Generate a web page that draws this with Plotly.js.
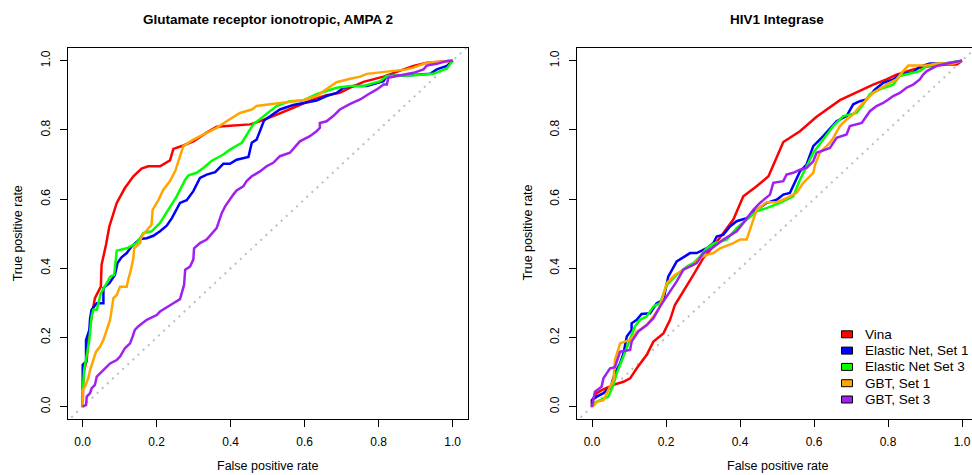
<!DOCTYPE html>
<html><head><meta charset="utf-8">
<script src="https://cdn.plot.ly/plotly-3.0.1.min.js"></script>
<style>html,body{margin:0;padding:0;overflow:hidden;background:#fff}#chart{width:1000px;height:475px}</style>
</head><body><div id="chart"></div>
<script>
const seriesNames = ["Vina", "Elastic Net, Set 1", "Elastic Net Set 3", "GBT, Set 1", "GBT, Set 3"];
const seriesColors = ["#ff0000", "#0000ff", "#00ff00", "#ffa500", "#a020f0"];
const panelTitles = ["Glutamate receptor ionotropic, AMPA 2", "HIV1 Integrase"];
const xAxisTitle = "False positive rate";
const yAxisTitle = "True positive rate";
const tickValues = [0, 0.2, 0.4, 0.6, 0.8, 1.0];
const tickLabels = ["0.0", "0.2", "0.4", "0.6", "0.8", "1.0"];
const diagonal = [-0.1, 1.1];

// Panel 1: Glutamate receptor ionotropic, AMPA 2
const gluVinaFpr = [0,0.002,0.011,0.015,0.024,0.033,0.049,0.051,0.063,0.072,0.092,0.114,0.137,0.159,0.177,0.209,0.236,0.245,0.272,0.299,0.335,0.362,0.389,0.452,0.470,0.515,0.569,0.623,0.659,0.695,0.723,0.759,0.813,0.849,0.894,0.930,1];
const gluVinaTpr = [0,0.097,0.135,0.193,0.261,0.314,0.347,0.410,0.468,0.521,0.589,0.632,0.666,0.688,0.695,0.695,0.712,0.745,0.755,0.767,0.792,0.809,0.811,0.816,0.822,0.840,0.864,0.888,0.900,0.907,0.922,0.939,0.954,0.968,0.985,0.994,1];
const gluEn1Fpr = [0,0,0.009,0.009,0.018,0.020,0.024,0.038,0.056,0.056,0.072,0.087,0.094,0.105,0.119,0.132,0.155,0.173,0.191,0.209,0.227,0.241,0.263,0.281,0.299,0.317,0.335,0.358,0.380,0.398,0.416,0.448,0.457,0.470,0.490,0.515,0.533,0.569,0.596,0.632,0.659,0.686,0.705,0.732,0.768,0.795,0.813,0.822,0.885,0.939,0.957,0.984,1];
const gluEn1Tpr = [0,0.121,0.130,0.193,0.222,0.256,0.280,0.299,0.299,0.343,0.357,0.381,0.415,0.432,0.444,0.463,0.485,0.487,0.494,0.507,0.523,0.545,0.589,0.597,0.623,0.661,0.671,0.678,0.702,0.702,0.714,0.722,0.763,0.772,0.827,0.845,0.859,0.872,0.878,0.885,0.898,0.907,0.922,0.927,0.927,0.936,0.941,0.956,0.958,0.962,0.975,0.985,1];
const gluEn3Fpr = [0,0,0.004,0.011,0.018,0.024,0.029,0.038,0.049,0.065,0.074,0.085,0.090,0.092,0.119,0.146,0.164,0.186,0.209,0.236,0.254,0.277,0.286,0.308,0.326,0.349,0.380,0.398,0.430,0.461,0.488,0.524,0.560,0.596,0.632,0.686,0.723,0.759,0.804,0.822,0.894,0.948,0.966,0.984,1];
const gluEn3Tpr = [0,0.048,0.106,0.154,0.193,0.261,0.280,0.280,0.328,0.357,0.376,0.381,0.444,0.451,0.458,0.473,0.502,0.507,0.531,0.579,0.608,0.656,0.669,0.676,0.690,0.711,0.729,0.743,0.763,0.816,0.838,0.869,0.883,0.885,0.903,0.922,0.927,0.927,0.941,0.956,0.958,0.962,0.970,0.977,1];
const gluGbt1Fpr = [0,0,0.006,0.015,0.020,0.029,0.036,0.047,0.056,0.065,0.074,0.083,0.092,0.101,0.119,0.123,0.130,0.137,0.139,0.155,0.159,0.175,0.186,0.189,0.205,0.218,0.236,0.250,0.263,0.272,0.299,0.317,0.362,0.389,0.425,0.457,0.470,0.506,0.560,0.596,0.632,0.659,0.686,0.723,0.750,0.768,0.813,0.876,0.894,0.930,1];
const gluGbt1Tpr = [0,0.048,0.058,0.082,0.106,0.135,0.159,0.174,0.193,0.222,0.251,0.314,0.323,0.347,0.347,0.367,0.394,0.430,0.458,0.473,0.492,0.512,0.526,0.569,0.598,0.627,0.652,0.681,0.724,0.753,0.772,0.782,0.806,0.825,0.849,0.859,0.869,0.874,0.881,0.886,0.898,0.919,0.938,0.948,0.954,0.962,0.968,0.975,0.980,0.994,1];
const gluGbt3Fpr = [0,0.009,0.011,0.020,0.024,0.033,0.038,0.047,0.060,0.074,0.092,0.101,0.114,0.128,0.135,0.141,0.150,0.173,0.200,0.209,0.245,0.263,0.274,0.277,0.290,0.299,0.301,0.317,0.335,0.353,0.362,0.376,0.385,0.407,0.416,0.434,0.443,0.457,0.470,0.479,0.497,0.515,0.533,0.560,0.587,0.614,0.632,0.641,0.641,0.659,0.677,0.695,0.723,0.750,0.772,0.795,0.813,0.822,0.826,0.849,0.894,0.921,0.930,0.957,0.984,1];
const gluGbt3Tpr = [0,0.005,0.029,0.039,0.053,0.063,0.087,0.097,0.111,0.125,0.135,0.145,0.169,0.183,0.203,0.222,0.232,0.251,0.265,0.275,0.299,0.311,0.352,0.396,0.405,0.425,0.458,0.473,0.483,0.507,0.516,0.560,0.579,0.613,0.625,0.637,0.652,0.666,0.673,0.680,0.695,0.705,0.724,0.734,0.767,0.782,0.796,0.806,0.820,0.825,0.840,0.859,0.875,0.888,0.903,0.917,0.931,0.931,0.951,0.956,0.965,0.975,0.986,0.991,0.999,1];

// Panel 2: HIV1 Integrase
const hivVinaFpr = [0,0,0.013,0.026,0.058,0.085,0.103,0.121,0.148,0.166,0.193,0.211,0.224,0.247,0.274,0.301,0.328,0.355,0.382,0.409,0.445,0.477,0.499,0.517,0.562,0.607,0.670,0.706,0.760,0.796,0.823,0.868,0.905,0.959,0.986,1];
const hivVinaTpr = [0,0.019,0.039,0.048,0.063,0.072,0.082,0.111,0.150,0.188,0.212,0.251,0.294,0.333,0.381,0.430,0.463,0.502,0.541,0.608,0.637,0.666,0.719,0.765,0.796,0.838,0.886,0.904,0.931,0.946,0.960,0.975,0.983,0.989,0.989,1];
const hivEn1Fpr = [0,0,0.013,0.031,0.040,0.049,0.062,0.076,0.085,0.094,0.107,0.107,0.121,0.134,0.157,0.175,0.193,0.206,0.229,0.265,0.283,0.310,0.328,0.337,0.355,0.373,0.391,0.418,0.445,0.472,0.499,0.517,0.535,0.562,0.580,0.598,0.625,0.661,0.688,0.706,0.724,0.742,0.765,0.787,0.814,0.832,0.868,0.886,0.914,0.959,1];
const hivEn1Tpr = [0,0.019,0.029,0.039,0.048,0.053,0.097,0.125,0.154,0.203,0.222,0.241,0.251,0.268,0.270,0.299,0.309,0.376,0.420,0.444,0.444,0.458,0.473,0.492,0.497,0.521,0.536,0.545,0.569,0.589,0.598,0.613,0.618,0.680,0.700,0.753,0.782,0.825,0.840,0.874,0.883,0.888,0.917,0.936,0.946,0.960,0.967,0.983,0.992,0.992,1];
const hivEn3Fpr = [0,0.004,0.022,0.044,0.058,0.067,0.085,0.103,0.116,0.130,0.148,0.166,0.184,0.202,0.229,0.256,0.274,0.292,0.310,0.328,0.364,0.391,0.418,0.445,0.472,0.508,0.544,0.562,0.585,0.598,0.625,0.652,0.679,0.715,0.733,0.751,0.778,0.814,0.832,0.868,0.886,0.905,0.950,1];
const hivEn3Tpr = [0,0.010,0.019,0.029,0.063,0.097,0.145,0.193,0.232,0.251,0.261,0.290,0.299,0.352,0.381,0.405,0.415,0.434,0.458,0.471,0.483,0.516,0.541,0.565,0.574,0.589,0.608,0.656,0.705,0.734,0.772,0.811,0.840,0.849,0.874,0.903,0.917,0.931,0.956,0.965,0.970,0.985,0.992,1];
const hivGbt1Fpr = [0,0.004,0.013,0.031,0.044,0.058,0.062,0.076,0.089,0.103,0.121,0.148,0.166,0.184,0.202,0.224,0.256,0.274,0.292,0.310,0.328,0.346,0.382,0.400,0.418,0.445,0.472,0.499,0.526,0.553,0.571,0.598,0.603,0.616,0.634,0.643,0.652,0.670,0.688,0.706,0.729,0.742,0.760,0.796,0.823,0.841,0.855,0.905,0.932,0.977,1];
const hivGbt1Tpr = [0,0.002,0.014,0.019,0.048,0.077,0.135,0.183,0.188,0.193,0.217,0.236,0.261,0.290,0.357,0.381,0.401,0.410,0.430,0.439,0.444,0.458,0.473,0.483,0.483,0.569,0.591,0.591,0.603,0.618,0.647,0.676,0.700,0.734,0.753,0.763,0.777,0.811,0.830,0.845,0.874,0.888,0.907,0.931,0.946,0.970,0.986,0.986,0.992,0.992,1];
const hivGbt3Fpr = [0,0.004,0.008,0.026,0.031,0.040,0.049,0.062,0.076,0.103,0.107,0.125,0.148,0.166,0.184,0.202,0.229,0.247,0.265,0.283,0.301,0.328,0.355,0.391,0.409,0.436,0.454,0.481,0.490,0.517,0.526,0.544,0.562,0.580,0.598,0.607,0.643,0.661,0.688,0.697,0.729,0.751,0.769,0.787,0.801,0.814,0.832,0.850,0.868,0.886,0.895,0.905,0.932,0.959,1];
const hivGbt3Tpr = [0,0.019,0.043,0.058,0.082,0.097,0.111,0.114,0.159,0.164,0.188,0.217,0.236,0.256,0.290,0.319,0.362,0.396,0.405,0.415,0.444,0.461,0.483,0.507,0.531,0.569,0.589,0.613,0.647,0.652,0.671,0.676,0.685,0.690,0.709,0.734,0.748,0.777,0.787,0.811,0.820,0.854,0.869,0.878,0.888,0.898,0.907,0.922,0.931,0.946,0.960,0.970,0.985,0.992,1];

const panels = [
  {xa: "x", ya: "y", fpr: [gluVinaFpr, gluEn1Fpr, gluEn3Fpr, gluGbt1Fpr, gluGbt3Fpr], tpr: [gluVinaTpr, gluEn1Tpr, gluEn3Tpr, gluGbt1Tpr, gluGbt3Tpr]},
  {xa: "x2", ya: "y2", fpr: [hivVinaFpr, hivEn1Fpr, hivEn3Fpr, hivGbt1Fpr, hivGbt3Fpr], tpr: [hivVinaTpr, hivEn1Tpr, hivEn3Tpr, hivGbt1Tpr, hivGbt3Tpr]}
];

const W = 1000, H = 475;
const FONT = "Liberation Sans, Arial, Helvetica, sans-serif";
const traces = [];
panels.forEach(p => {
  traces.push({x: diagonal, y: diagonal, xaxis: p.xa, yaxis: p.ya, mode: "lines", hoverinfo: "skip",
    line: {color: "#bebebe", width: 2, dash: "2px,5px"}});
  seriesNames.forEach((nm, i) => {
    traces.push({x: p.fpr[i], y: p.tpr[i], xaxis: p.xa, yaxis: p.ya, name: nm, mode: "lines",
      line: {color: seriesColors[i], width: 2.5}});
  });
});

function px(v) { return v / W; }
function py(v) { return (H - v) / H; }

const boxes = [[67.9, 467.5], [577.2, 976.8]];
const boxTop = 47.5, boxBottom = 418.5;

function xaxisDef(dom) {
  return {domain: [px(dom[0]), px(dom[1])], range: [-0.04, 1.04], tickvals: tickValues, ticktext: tickLabels,
    ticks: "outside", ticklen: 7, tickwidth: 1, tickcolor: "#000", showline: true, linecolor: "#000", linewidth: 1,
    mirror: true, showgrid: false, zeroline: false, ticklabelstandoff: 5,
    tickfont: {family: FONT, size: 12, color: "#000"}};
}
function yaxisDef(anchor) {
  return {domain: [py(boxBottom), py(boxTop)], range: [-0.0341, 1.0382], tickvals: tickValues, ticktext: tickLabels,
    ticks: "outside", ticklen: 7, tickwidth: 1, tickcolor: "#000", showline: true, linecolor: "#000", linewidth: 1,
    mirror: true, showgrid: false, zeroline: false, tickangle: -90, ticklabelstandoff: 5, anchor: anchor,
    tickfont: {family: FONT, size: 12, color: "#000"}};
}

const annotations = [];
const shapes = [];
boxes.forEach((b, k) => {
  const cx = (b[0] + b[1]) / 2;
  annotations.push({text: "<b>" + panelTitles[k] + "</b>", xref: "paper", yref: "paper", x: px(cx), y: py(19),
    xanchor: "center", yanchor: "middle", showarrow: false, font: {family: FONT, size: 13.5, color: "#000"}});
  annotations.push({text: xAxisTitle, xref: "paper", yref: "paper", x: px(cx), y: py(466),
    xanchor: "center", yanchor: "middle", showarrow: false, font: {family: FONT, size: 12.5, color: "#000"}});
  annotations.push({text: yAxisTitle, xref: "paper", yref: "paper", x: px(b[0] - 49.6), y: py((boxTop + boxBottom) / 2),
    xanchor: "center", yanchor: "middle", textangle: -90, showarrow: false, font: {family: FONT, size: 12.5, color: "#000"}});
});

// legend (right panel)
const legX0 = 841.5, legBoxW = 11, legBoxH = 7, legY0 = 334.3, legStep = 16.3, legTextX = 863;
seriesNames.forEach((nm, i) => {
  const yc = legY0 + i * legStep;
  shapes.push({type: "rect", xref: "paper", yref: "paper", x0: px(legX0), x1: px(legX0 + legBoxW),
    y0: py(yc + legBoxH / 2), y1: py(yc - legBoxH / 2), fillcolor: seriesColors[i], line: {color: "#000", width: 1}});
  annotations.push({text: nm, xref: "paper", yref: "paper", x: px(legTextX), y: py(yc), xanchor: "left", yanchor: "middle",
    showarrow: false, font: {family: FONT, size: 13.5, color: "#000"}});
});

const layout = {
  width: W, height: H, margin: {l: 0, r: 0, t: 0, b: 0}, showlegend: false,
  paper_bgcolor: "#fff", plot_bgcolor: "#fff",
  xaxis: xaxisDef(boxes[0]), yaxis: yaxisDef("x"),
  xaxis2: Object.assign(xaxisDef(boxes[1]), {anchor: "y2"}), yaxis2: yaxisDef("x2"),
  annotations: annotations, shapes: shapes
};
Plotly.newPlot("chart", traces, layout, {displayModeBar: false, staticPlot: true});
</script></body></html>
